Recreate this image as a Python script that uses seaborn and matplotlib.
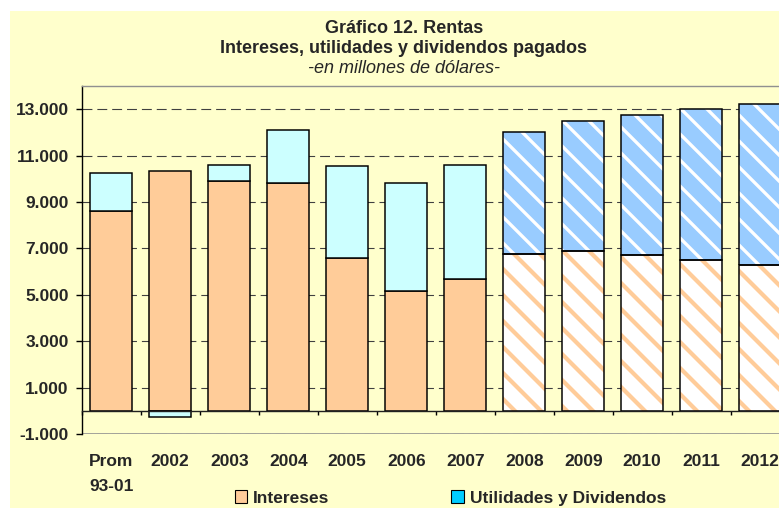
import numpy as np
import pandas as pd
import seaborn as sns
import matplotlib.pyplot as plt
from matplotlib.patches import Patch, Rectangle
from matplotlib.ticker import FuncFormatter

# datos (millones de dolares)
categorias = ['Prom\n93-01', '2002', '2003', '2004', '2005', '2006',
              '2007', '2008', '2009', '2010', '2011', '2012']
intereses = [8600, 10350, 9900, 9800, 6600, 5150, 5700, 6780, 6890, 6720, 6520, 6300]
utilidades = [1670, -250, 700, 2300, 3950, 4650, 4900, 5250, 5610, 6040, 6470, 6920]
proyectado = [False] * 7 + [True] * 5
yticks = list(range(-1000, 14000, 2000))

naranja = '#FFCC99'
celeste = '#CCFFFF'
azul = '#99CCFF'
fondo = '#FFFFCC'

# dpi 78 -> rayado cada 13 px
DPI = 78
W, H = 779, 508

def px(v):
    # pixeles a puntos
    return v * 72 / DPI

df = pd.DataFrame({'Periodo': categorias, 'Intereses': intereses, 'Utilidades': utilidades})
base_util = np.where(df['Utilidades'] >= 0, df['Intereses'], 0)
n = len(df)

sns.set_style('white')
plt.rcParams['font.family'] = ['Liberation Sans', 'DejaVu Sans']
plt.rcParams['hatch.linewidth'] = px(4.0)

fig = plt.figure(figsize=(W / DPI, H / DPI), dpi=DPI)
fig.patch.set_facecolor('white')
fig.add_artist(Rectangle((10 / W, 0), 1, 1 - 11 / H, transform=fig.transFigure,
                         facecolor=fondo, edgecolor='none', zorder=-10))

ax = fig.add_axes([81.7 / W, 1 - 434 / H, 708 / W, 348 / H])
ax.set_facecolor(fondo)

sns.barplot(data=df, x='Periodo', y='Intereses', color=naranja, saturation=1,
            width=42 / 59, edgecolor='black', linewidth=px(1.5), errorbar=None, ax=ax)
sns.barplot(data=df, x='Periodo', y='Utilidades', color=celeste, saturation=1,
            width=42 / 59, edgecolor='black', linewidth=px(1.5), errorbar=None,
            bottom=base_util, ax=ax)

int_patches = ax.patches[:n]
util_patches = ax.patches[n:2 * n]

# barras proyectadas con rayado
def rayar(p, cara, raya, lw):
    r = Rectangle((p.get_x(), p.get_y()), p.get_width(), p.get_height(),
                  facecolor=cara, edgecolor=raya, hatch='\\', linewidth=0, zorder=0.9)
    if hasattr(r, 'set_hatch_linewidth'):
        r.set_hatch_linewidth(lw)
    ax.add_patch(r)
    p.set_facecolor('none')

for p, proj in zip(int_patches, proyectado):
    if proj:
        rayar(p, 'white', naranja, px(4.2))
for p, proj in zip(util_patches, proyectado):
    if proj:
        rayar(p, azul, 'white', px(3.3))

ax.set_ylim(-1000, 14000)
ax.set_yticks(yticks)
ax.yaxis.set_major_formatter(FuncFormatter(lambda v, pos: f'{v:,.0f}'.replace(',', '.')))
ax.set_axisbelow(True)
ax.yaxis.grid(True, color='#404040', linewidth=px(1.1), linestyle=(0, (9, 4.5)))
ax.xaxis.grid(False)
ax.set_xlabel('')
ax.set_ylabel('')

ax.spines['bottom'].set_position(('data', 0))
ax.spines['bottom'].set_color('#202020')
ax.spines['left'].set_color('black')
ax.spines['top'].set_color('#909090')
ax.spines['right'].set_visible(False)
for s in ['bottom', 'left', 'top']:
    ax.spines[s].set_linewidth(px(1.4))
ax.axhline(-1000, color='#909090', linewidth=px(1.6), zorder=2.5)

fs_tick = px(17.4)
fs_title = px(18.0)

ax.set_xticks(np.arange(n + 1) - 0.5, minor=True)
ax.tick_params(axis='x', which='minor', bottom=True, length=px(4), width=px(1.4),
               color='black', direction='out')
ax.tick_params(axis='x', which='major', bottom=True, length=0, pad=px(43))
ax.tick_params(axis='y', which='major', left=True, length=px(6), width=px(1.4),
               color='black', pad=px(7))
for lab in ax.get_xticklabels():
    lab.set_fontweight('bold')
    lab.set_fontsize(fs_tick)
    lab.set_linespacing(1.85)
for lab in ax.get_yticklabels():
    lab.set_fontweight('bold')
    lab.set_fontsize(fs_tick)

fig.text(404 / W, 1 - 33 / H, 'Gráfico 12. Rentas', ha='center', va='baseline',
         fontsize=fs_title, fontweight='bold')
fig.text(404 / W, 1 - 53 / H, 'Intereses, utilidades y dividendos pagados', ha='center',
         va='baseline', fontsize=fs_title, fontweight='bold')
fig.text(404 / W, 1 - 73 / H, '-en millones de dólares-', ha='center', va='baseline',
         fontsize=fs_title, fontstyle='italic')

handles = [Patch(facecolor=naranja, edgecolor='black', linewidth=px(1.1), label='Intereses'),
           Patch(facecolor='#00CCFF', edgecolor='black', linewidth=px(1.1),
                 label='Utilidades y Dividendos')]
fig.legend(handles=handles, loc='center left', bbox_to_anchor=(235 / W, 1 - 498 / H),
           ncol=2, frameon=False, borderpad=0, borderaxespad=0, handlelength=0.7,
           handleheight=0.7, handletextpad=0.35, columnspacing=7.0,
           prop=dict(weight='bold', size=fs_tick))

fig.savefig('out.png', dpi=DPI, facecolor=fig.get_facecolor())
